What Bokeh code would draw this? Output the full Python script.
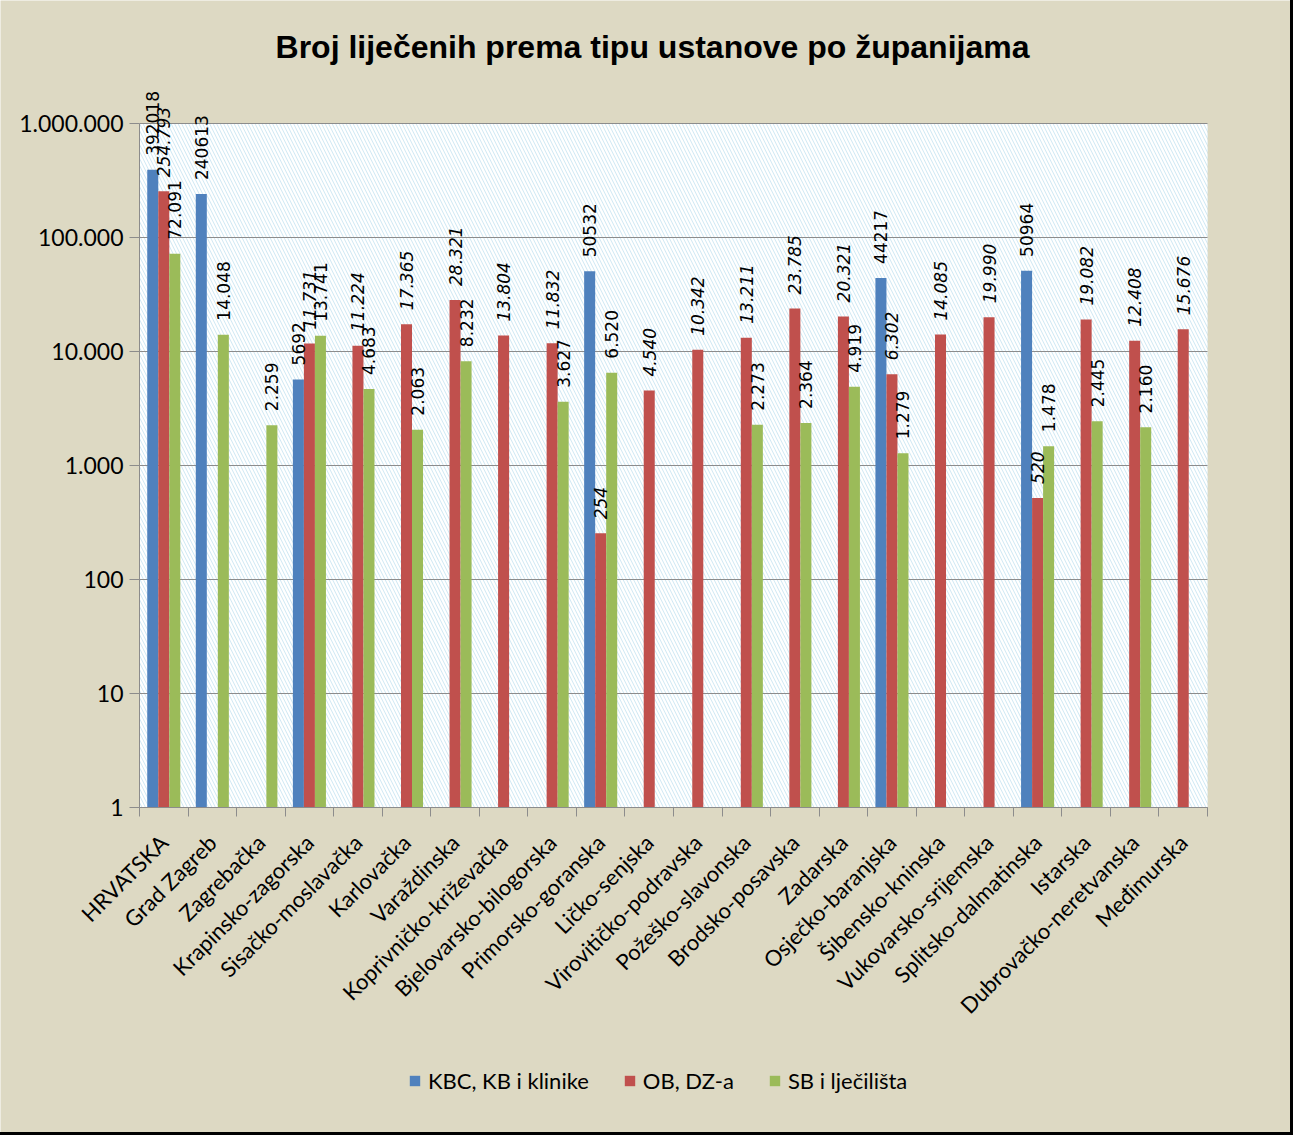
import math
from bokeh.plotting import figure
from bokeh.models import (ColumnDataSource, Range1d, FixedTicker, CustomJSTickFormatter,
                          LabelSet, Label, Legend, LegendItem)
from bokeh.core.properties import value
from bokeh.embed import file_html
from bokeh.resources import INLINE

categories = ["HRVATSKA", "Grad Zagreb", "Zagrebačka", "Krapinsko-zagorska", "Sisačko-moslavačka",
              "Karlovačka", "Varaždinska", "Koprivničko-križevačka", "Bjelovarsko-bilogorska",
              "Primorsko-goranska", "Ličko-senjska", "Virovitičko-podravska", "Požeško-slavonska",
              "Brodsko-posavska", "Zadarska", "Osječko-baranjska", "Šibensko-kninska",
              "Vukovarsko-srijemska", "Splitsko-dalmatinska", "Istarska", "Dubrovačko-neretvanska",
              "Međimurska"]

# None = no bar
kbc = [392018, 240613, None, 5692, None, None, None, None, None, 50532, None, None, None,
       None, None, 44217, None, None, 50964, None, None, None]
ob = [254793, None, None, 11731, 11224, 17365, 28321, 13804, 11832, 254, 4540, 10342, 13211,
      23785, 20321, 6302, 14085, 19990, 520, 19082, 12408, 15676]
sb = [72091, 14048, 2259, 13741, 4683, 2063, 8232, None, 3627, 6520, None, None, 2273,
      2364, 4919, 1279, None, None, 1478, 2445, 2160, None]

series_names = ["KBC, KB i klinike", "OB, DZ-a", "SB i lječilišta"]
y_ticks = [1, 10, 100, 1000, 10000, 100000, 1000000]
chart_title = "Broj liječenih prema tipu ustanove po županijama"

colors = ["#4F81BD", "#C0504D", "#9BBB59"]
BG = "#DDD9C3"
GRID = "#8C8C8C"
BW = 0.227
offsets = [-BW, 0.0, BW]

# layout geometry (figure pixels; figure sits at page offset 8,8)
W, H = 1290, 1132
N = len(categories)
PLOT_L, PLOT_R = 139.0, 1207.0     # plot area left/right
Y1, DEC = 807.0, 114.0             # y pixel of value 1, pixels per decade
CAT = (PLOT_R - PLOT_L) / N
x_lo = -0.5 - PLOT_L / CAT
x_hi = N - 0.5 + (W - PLOT_R) / CAT
y_top = 10 ** (Y1 / DEC)
y_bot = 10 ** (-(H - Y1) / DEC)


def dots(v):
    return f"{v:,}".replace(",", ".")


p = figure(width=W, height=H, output_backend="svg", toolbar_location=None,
           x_range=Range1d(x_lo, x_hi), y_range=Range1d(y_bot, y_top),
           y_axis_type="log", min_border=0)
p.background_fill_color = BG
p.border_fill_color = BG
p.outline_line_color = None
p.styles = {"outline": "3px solid black"}

# hatched plot area
p.quad(left=-0.5, right=N - 0.5, bottom=1, top=1e6, fill_color="#CFE8F3",
       hatch_pattern="left_diagonal_line", hatch_color="white", hatch_weight=2.2,
       hatch_scale=7, line_color=None, level="image")

# horizontal grid lines limited to the plot area
p.grid.visible = False
p.segment(x0=[-0.5] * len(y_ticks), x1=[N - 0.5] * len(y_ticks), y0=y_ticks, y1=y_ticks,
          line_color=GRID, line_width=1.2, level="underlay")

renderers = []
for i, (vals, col) in enumerate(zip([kbc, ob, sb], colors)):
    xs = [j + offsets[i] for j, v in enumerate(vals) if v is not None]
    ys = [v for v in vals if v is not None]
    if i == 0:
        txt = [str(v) for v in ys]
    else:
        txt = [dots(v) for v in ys]
    src = ColumnDataSource(dict(x=xs, top=ys, text=txt))
    r = p.vbar(x="x", top="top", bottom=1, width=BW, source=src, fill_color=col, line_color=None)
    renderers.append(r)
    lab = LabelSet(x="x", y="top", text="text", source=src, angle=math.pi / 2,
                   text_align="left", text_baseline="middle", y_offset=14,
                   text_font=value("DejaVu Sans"), text_font_size=value("17px"),
                   text_color="black",
                   text_font_style=value("italic" if i == 1 else "normal"))
    p.add_layout(lab)

# y axis, pinned to the left edge of the plot area
p.yaxis.fixed_location = -0.5
p.yaxis.ticker = FixedTicker(ticks=y_ticks)
p.yaxis.bounds = (1, 1e6)
p.yaxis.formatter = CustomJSTickFormatter(
    code="return Math.round(tick).toString().replace(/\\B(?=(\\d{3})+(?!\\d))/g, '.');")
p.yaxis.major_label_text_font = "Lato"
p.yaxis.major_label_text_font_size = "23px"
p.yaxis.major_label_text_color = "black"
p.yaxis.axis_line_color = GRID
p.yaxis.major_tick_line_color = GRID
p.yaxis.major_tick_out = 10
p.yaxis.major_tick_in = 0
p.yaxis.minor_tick_line_color = None
p.yaxis.major_label_standoff = 6

# x axis, pinned at value 1
p.xaxis.fixed_location = 1
p.xaxis.bounds = (-0.5, N - 0.5)
p.xaxis.ticker = FixedTicker(ticks=list(range(N)),
                             minor_ticks=[k - 0.5 for k in range(N + 1)])
p.xaxis.formatter = CustomJSTickFormatter(args=dict(names=categories),
                                          code="return names[Math.round(tick)];")
p.xaxis.major_label_orientation = math.pi / 4
p.xaxis.major_label_text_font = "Lato"
p.xaxis.major_label_text_font_size = "22px"
p.xaxis.major_label_text_color = "black"
p.xaxis.axis_line_color = GRID
p.xaxis.major_tick_line_color = None
p.xaxis.minor_tick_line_color = GRID
p.xaxis.minor_tick_out = 9
p.xaxis.minor_tick_in = 0
p.xaxis.major_label_standoff = 22

# title (screen units relative to the frame's bottom-left corner)
title = Label(x=652, y=H - 46, x_units="screen", y_units="screen", text=chart_title,
              text_align="center", text_baseline="middle", text_font="Liberation Sans",
              text_font_style="bold", text_font_size="32px", text_color="black")
p.add_layout(title)

legend = Legend(items=[LegendItem(label=n, renderers=[r]) for n, r in zip(series_names, renderers)],
                orientation="horizontal", location=(408, 38))
legend.label_text_font = "Lato"
legend.label_text_font_size = "22px"
legend.label_text_color = "black"
legend.glyph_width = 13
legend.glyph_height = 13
legend.spacing = 34
legend.label_standoff = 7
legend.border_line_color = None
legend.background_fill_alpha = 0
legend.padding = 0
legend.margin = 0
p.add_layout(legend)

open("out.html", "w").write(file_html(p, INLINE))
